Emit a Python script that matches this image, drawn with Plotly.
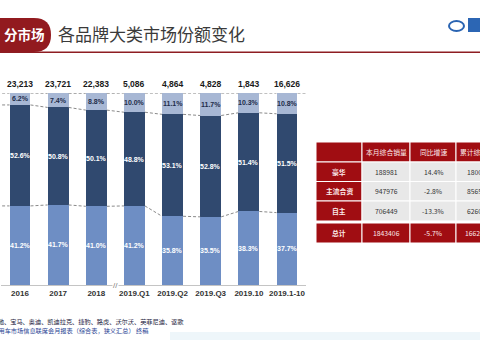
import plotly.graph_objects as go

# ---- data -------------------------------------------------------------
categories = ["2016", "2017", "2018", "2019.Q1", "2019.Q2", "2019.Q3", "2019.10", "2019.1-10"]
totals = [23213, 23721, 22383, 5086, 4864, 4828, 1843, 16626]          # 千辆
luxury_share = [6.2, 7.4, 8.8, 10.0, 11.1, 11.7, 10.3, 10.8]           # 豪华
jv_share = [52.6, 50.8, 50.1, 48.8, 53.1, 52.8, 51.4, 51.5]            # 主流合资
domestic_share = [41.2, 41.7, 41.0, 41.2, 35.8, 35.5, 38.3, 37.7]      # 自主

table_header = ["", "本月综合销量", "同比增速", "累计综合销量"]
table_rows = ["豪华", "主流合资", "自主", "总计"]
table_monthly = ["188981", "947976", "706449", "1843406"]
table_yoy = ["14.4%", "-2.8%", "-13.3%", "-5.7%"]
table_cumulative = ["1800213", "8565476", "6260811", "16626500"]

title_tag = "分市场"
title_text = "各品牌大类市场份额变化"
note_line1 = "注：豪华品牌包括：奔驰、宝马、奥迪、凯迪拉克、捷豹、路虎、沃尔沃、英菲尼迪、讴歌"
note_line2 = "数据来源：全国乘用车市场信息联席会月报表（综合表，狭义汇总） 终稿"

# ---- styling ------------------------------------------------------------
W, H = 480, 340
C_LIGHT = "#a7b7d4"
C_DARK = "#30496f"
C_MED = "#6e8ec4"
C_RED = "#a00d12"
C_GRAY_CELL = "#e8e8e8"
CJK = "Noto Sans CJK SC"
LAT = "Liberation Sans"
BAR_W = 0.55


def fx(p):
    return p / W


def fy(p):
    return 1 - p / H


def note(x, y, text, font, xanchor="center", ref="paper"):
    return dict(x=x, y=y, xref=ref, yref=ref, xanchor=xanchor, yanchor="middle",
                showarrow=False, text=text, font=font)


n = len(categories)
xs = list(range(n))
lvl_dom = [round(v, 2) for v in domestic_share]
lvl_jv = [round(d + j, 2) for d, j in zip(domestic_share, jv_share)]
lvl_top = [round(d + j + l, 2) for d, j, l in zip(domestic_share, jv_share, luxury_share)]

fig = go.Figure()
fig.add_bar(x=xs, y=domestic_share, marker=dict(color=C_MED, line=dict(width=0)), width=BAR_W)
fig.add_bar(x=xs, y=jv_share, marker=dict(color=C_DARK, line=dict(width=0)), width=BAR_W)
fig.add_bar(x=xs, y=luxury_share, marker=dict(color=C_LIGHT, line=dict(width=0)), width=BAR_W)


# series lines joining the segment boundaries of neighbouring bars
def series_line(levels, tail=False):
    lx, ly = [-0.6, -BAR_W / 2], [levels[0], levels[0]]
    for i in range(n - 1):
        lx += [None, i + BAR_W / 2, i + 1 - BAR_W / 2]
        ly += [None, levels[i], levels[i + 1]]
    if tail:
        lx += [None, n - 1 + BAR_W / 2, n - 0.4]
        ly += [None, levels[-1], levels[-1]]
    return lx, ly


for levels, tail in ((lvl_dom, False), (lvl_jv, False), (lvl_top, True)):
    lx, ly = series_line(levels, tail)
    fig.add_scatter(x=lx, y=ly, mode="lines", hoverinfo="skip", cliponaxis=False,
                    line=dict(color="#8a8a8a", width=1, dash="3px,2px"))

annotations = []
seg_font = dict(family=LAT, size=7, color="white", weight="bold")
for i in range(n):
    annotations.append(note(i, lvl_dom[i] / 2, f"{domestic_share[i]:.1f}%", seg_font, ref="x"))
    annotations.append(note(i, (lvl_dom[i] + lvl_jv[i]) / 2, f"{jv_share[i]:.1f}%", seg_font, ref="x"))
    annotations.append(note(i, (lvl_jv[i] + lvl_top[i]) / 2, f"{luxury_share[i]:.1f}%",
                            dict(seg_font, color="#1e2c4a"), ref="x"))
    total_lbl = note(i, lvl_top[i], f"{totals[i]:,}",
                     dict(family=LAT, size=8.5, color="#1a1a1a", weight="bold"), ref="x")
    total_lbl["yshift"] = 9
    annotations.append(total_lbl)
for a in annotations:
    a["yref"] = "y"

# axis break between annual and 2019 periods
brk = note(2.5, 0, "//", dict(family=LAT, size=8, color="#7a7a7a"), ref="x")
brk.update(yref="y", bgcolor="white", borderpad=0)
annotations.append(brk)

shapes = []
# header tag and title rule
shapes.append(dict(type="path", xref="paper", yref="paper",
                   path=(f"M {fx(-20)},{fy(18)} L {fx(34)},{fy(18)} "
                         f"Q {fx(51)},{fy(18)} {fx(51)},{fy(35)} "
                         f"Q {fx(51)},{fy(52)} {fx(34)},{fy(52)} L {fx(-20)},{fy(52)} Z"),
                   fillcolor="#921a1f", line=dict(width=0)))
shapes.append(dict(type="line", xref="paper", yref="paper", x0=0, x1=1, y0=fy(52.3), y1=fy(52.3),
                   line=dict(color="#8e1d22", width=1.5)))
annotations.append(note(fx(2), fy(34), title_tag,
                        dict(family=CJK, size=13.5, color="white", weight="bold"), xanchor="left"))
annotations.append(note(fx(56), fy(34), title_text,
                        dict(family=CJK, size=17, color="#3a3a3a"), xanchor="left"))

# logo mark in the corner
shapes.append(dict(type="circle", xref="paper", yref="paper", x0=fx(449), x1=fx(464),
                   y0=fy(31), y1=fy(21), line=dict(color="#2a64b2", width=2)))
shapes.append(dict(type="rect", xref="paper", yref="paper", x0=fx(468), x1=fx(482),
                   y0=fy(32), y1=fy(18), fillcolor="#2c66b4", line=dict(width=0)))

# sales table
col_x = [316, 362, 410, 456, 504]
row_y = [(142, 162), (162, 181.5), (181.5, 201), (201, 221), (223, 243)]
body = [[table_rows[r], table_monthly[r], table_yoy[r], table_cumulative[r]] for r in range(len(table_rows))]
cells = [table_header] + body
for r, (y0, y1) in enumerate(row_y):
    for c in range(4):
        red = r == 0 or c == 0 or r == len(row_y) - 1
        shapes.append(dict(type="rect", xref="paper", yref="paper",
                           x0=fx(col_x[c]), x1=fx(col_x[c + 1]), y0=fy(y1), y1=fy(y0),
                           fillcolor=C_RED if red else C_GRAY_CELL,
                           line=dict(color="white", width=1)))
        txt = cells[r][c]
        if txt:
            annotations.append(note(fx((col_x[c] + col_x[c + 1]) / 2), fy((y0 + y1) / 2), txt,
                                    dict(family=CJK, size=6.8,
                                         color="#fbeaea" if red else "#333333",
                                         weight="bold" if (red and c == 0) else "normal")))

# footnotes
annotations.append(note(fx(186), fy(321.5), note_line1,
                        dict(family=CJK, size=6.2, color="#1c2240"), xanchor="right"))
annotations.append(note(fx(150), fy(330), note_line2,
                        dict(family=CJK, size=6.2, color="#1f3f93"), xanchor="right"))
shapes.append(dict(type="rect", xref="paper", yref="paper", x0=fx(170), x1=1,
                   y0=0, y1=fy(332), fillcolor="#eef6fa", line=dict(width=0), layer="below"))

fig.update_layout(
    width=W, height=H, margin=dict(l=0, r=0, t=0, b=0),
    paper_bgcolor="white", plot_bgcolor="rgba(0,0,0,0)",
    barmode="stack", showlegend=False,
    xaxis=dict(domain=[fx(0.93), fx(306.07)], range=[-0.5, n - 0.5],
               tickmode="array", tickvals=xs, ticktext=categories,
               tickfont=dict(family=LAT, size=8, color="#333333", weight="bold"),
               showgrid=False, zeroline=False, showline=True, linecolor="#c4c4c4",
               linewidth=1, ticks=""),
    yaxis=dict(domain=[1 - 285 / H, 1 - 93 / H], range=[0, 100.02], visible=False),
    shapes=shapes, annotations=annotations,
)

fig.write_html("out.html")
